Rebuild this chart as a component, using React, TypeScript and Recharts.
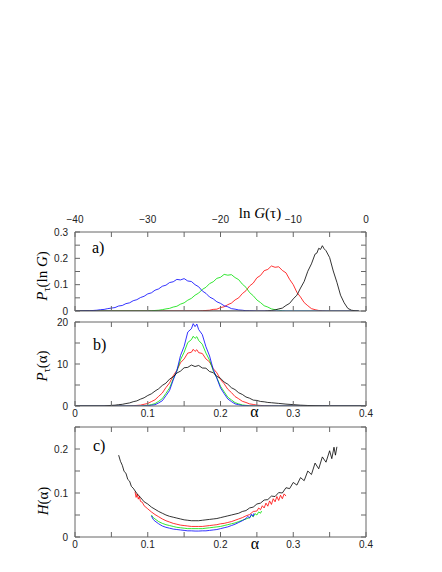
import React from 'react';
import { LineChart, Line, XAxis, YAxis } from 'recharts';

type Pt = [number, number];

// ---------- panel a: P_tau(ln G) vs ln G ----------
const aXTicks = [-40, -35, -30, -25, -20, -15, -10, -5, 0];
const aXMajor = [-40, -30, -20, -10, 0];
const aYTicks = [0, 0.05, 0.1, 0.15, 0.2, 0.25, 0.3];
const aYMajor = [0, 0.1, 0.2, 0.3];

const aBlue: Pt[] = [[-40,0],[-38.5,0.001],[-38,0.001],[-37.5,0.002],[-37,0.003],[-36.5,0.005],[-36,0.006],[-35.5,0.009],[-35,0.011],[-34.5,0.013],[-34,0.019],[-33.5,0.021],[-33,0.028],[-32.5,0.031],[-32,0.039],[-31.5,0.043],[-31,0.051],[-30.5,0.056],[-30,0.065],[-29.5,0.069],[-29,0.079],[-28.5,0.084],[-28,0.094],[-27.5,0.098],[-27,0.108],[-26.5,0.111],[-26,0.12],[-25.5,0.118],[-25,0.123],[-24.5,0.114],[-24,0.112],[-23.5,0.1],[-23,0.092],[-22.5,0.076],[-22,0.067],[-21.5,0.053],[-21,0.046],[-20.5,0.035],[-20,0.029],[-19.5,0.02],[-19,0.016],[-18.5,0.009],[-18,0.007],[-17.5,0.004],[-17,0.003],[-16.5,0.001],[-16,0.001],[-15,0],[-1,0]];
const aGreen: Pt[] = [[-40,0],[-30,0],[-29.5,0.001],[-29,0.002],[-28.5,0.003],[-28,0.005],[-27.5,0.008],[-27,0.01],[-26.5,0.015],[-26,0.018],[-25.5,0.026],[-25,0.031],[-24.5,0.041],[-24,0.048],[-23.5,0.06],[-23,0.068],[-22.5,0.082],[-22,0.09],[-21.5,0.104],[-21,0.111],[-20.5,0.124],[-20,0.128],[-19.5,0.139],[-19,0.136],[-18.5,0.138],[-18,0.127],[-17.5,0.119],[-17,0.102],[-16.5,0.09],[-16,0.07],[-15.5,0.058],[-15,0.042],[-14.5,0.032],[-14,0.02],[-13.5,0.015],[-13,0.008],[-12.5,0.005],[-12,0.003],[-11.5,0.001],[-11,0],[-1,0]];
const aRed: Pt[] = [[-40,0],[-23,0],[-22.5,0.001],[-22,0.002],[-21.5,0.003],[-21,0.006],[-20.5,0.007],[-20,0.013],[-19.5,0.016],[-19,0.024],[-18.5,0.03],[-18,0.042],[-17.5,0.05],[-17,0.066],[-16.5,0.077],[-16,0.095],[-15.5,0.106],[-15,0.126],[-14.5,0.135],[-14,0.153],[-13.5,0.158],[-13,0.171],[-12.5,0.166],[-12,0.168],[-11.5,0.154],[-11,0.145],[-10.5,0.12],[-10,0.1],[-9.5,0.071],[-9,0.053],[-8.5,0.032],[-8,0.02],[-7.5,0.009],[-7,0.005],[-6.5,0.002],[-6,0.001],[-5.5,0],[-1,0]];
const aBlack: Pt[] = [[-40,0],[-14,0],[-13.5,0.001],[-13,0.002],[-12.5,0.004],[-12,0.008],[-11.5,0.011],[-11,0.021],[-10.5,0.029],[-10,0.046],[-9.5,0.06],[-9,0.087],[-8.5,0.112],[-8,0.151],[-7.5,0.179],[-7,0.216],[-6.75,0.22],[-6.5,0.238],[-6.25,0.234],[-6,0.248],[-5.75,0.236],[-5.5,0.229],[-5,0.203],[-4.5,0.152],[-4,0.109],[-3.5,0.06],[-3,0.031],[-2.5,0.01],[-2,0.003],[-1.5,0.001],[-1,0]];

// ---------- panel b: P_tau(alpha) ----------
const alphaTicks = [0, 0.05, 0.1, 0.15, 0.2, 0.25, 0.3, 0.35, 0.4];
const alphaMajor = [0, 0.1, 0.2, 0.3, 0.4];
const bYTicks = [0, 5, 10, 15, 20];
const bYMajor = [0, 10, 20];

const bBlue: Pt[] = [[0,0],[0.09,0],[0.1,0.07],[0.105,0.18],[0.11,0.3],[0.115,0.74],[0.12,1.25],[0.125,2.45],[0.13,3.7],[0.135,6.2],[0.14,8.4],[0.145,12.0],[0.15,14.2],[0.155,17.6],[0.16,18.4],[0.1625,19.6],[0.165,18.9],[0.1675,19.5],[0.17,18.2],[0.175,17.0],[0.18,14.1],[0.185,11.9],[0.19,8.7],[0.195,6.6],[0.2,4.3],[0.205,2.95],[0.21,1.68],[0.215,1.05],[0.22,0.5],[0.225,0.3],[0.23,0.12],[0.235,0.06],[0.24,0.02],[0.25,0],[0.4,0]];
const bGreen: Pt[] = [[0,0],[0.09,0],[0.1,0.16],[0.105,0.33],[0.11,0.57],[0.115,1.12],[0.12,1.76],[0.125,3.0],[0.13,4.3],[0.135,6.45],[0.14,8.3],[0.145,11.0],[0.15,12.8],[0.155,15.1],[0.16,15.8],[0.1625,16.6],[0.165,16.1],[0.1675,16.5],[0.17,15.6],[0.175,14.7],[0.18,12.6],[0.185,10.9],[0.19,8.4],[0.195,6.7],[0.2,4.7],[0.205,3.4],[0.21,2.1],[0.215,1.45],[0.22,0.8],[0.225,0.5],[0.23,0.25],[0.235,0.15],[0.24,0.06],[0.25,0],[0.4,0]];
const bRed: Pt[] = [[0,0],[0.07,0],[0.08,0.07],[0.085,0.14],[0.09,0.21],[0.095,0.41],[0.1,0.6],[0.105,1.05],[0.11,1.48],[0.115,2.3],[0.12,3.1],[0.125,4.4],[0.13,5.5],[0.135,7.2],[0.14,8.5],[0.145,10.3],[0.15,11.2],[0.155,12.6],[0.16,12.8],[0.1625,13.5],[0.165,13.0],[0.1675,13.4],[0.17,12.7],[0.175,12.5],[0.18,11.2],[0.185,10.5],[0.19,8.9],[0.195,7.9],[0.2,6.3],[0.205,5.3],[0.21,4.0],[0.215,3.2],[0.22,2.25],[0.225,1.72],[0.23,1.12],[0.235,0.84],[0.24,0.5],[0.245,0.37],[0.25,0.2],[0.255,0.14],[0.26,0.07],[0.27,0.03],[0.28,0],[0.4,0]];
const bBlack: Pt[] = [[0,0],[0.04,0],[0.05,0.15],[0.055,0.2],[0.06,0.32],[0.065,0.4],[0.07,0.58],[0.075,0.73],[0.08,1.02],[0.085,1.22],[0.09,1.63],[0.095,1.96],[0.1,2.5],[0.105,2.9],[0.11,3.55],[0.115,4.1],[0.12,4.9],[0.125,5.45],[0.13,6.4],[0.135,6.95],[0.14,7.85],[0.145,8.3],[0.15,9.1],[0.155,9.2],[0.16,9.75],[0.165,9.4],[0.17,9.65],[0.175,9.05],[0.18,9.0],[0.185,8.2],[0.19,7.95],[0.195,7.05],[0.2,6.6],[0.205,5.7],[0.21,5.2],[0.215,4.35],[0.22,3.9],[0.225,3.15],[0.23,2.75],[0.235,2.15],[0.24,1.85],[0.245,1.4],[0.25,1.32],[0.255,1.08],[0.26,1.0],[0.265,0.85],[0.27,0.78],[0.28,0.62],[0.29,0.45],[0.3,0.33],[0.31,0.2],[0.32,0.12],[0.33,0.06],[0.34,0.03],[0.35,0],[0.4,0]];

// ---------- panel c: H(alpha) ----------
const cYTicks = [0, 0.05, 0.1, 0.15, 0.2, 0.25];
const cYMajor = [0, 0.1, 0.2];

const cBlack: Pt[] = [[0.06,0.186],[0.0625,0.172],[0.065,0.163],[0.0675,0.149],[0.07,0.145],[0.0725,0.131],[0.075,0.127],[0.0775,0.115],[0.08,0.111],[0.085,0.099],[0.09,0.09],[0.095,0.08],[0.1,0.075],[0.105,0.068],[0.11,0.063],[0.115,0.058],[0.12,0.054],[0.125,0.05],[0.13,0.047],[0.135,0.045],[0.14,0.043],[0.145,0.041],[0.15,0.039],[0.155,0.038],[0.16,0.037],[0.165,0.037],[0.17,0.037],[0.175,0.038],[0.18,0.039],[0.185,0.04],[0.19,0.041],[0.195,0.042],[0.2,0.044],[0.205,0.046],[0.21,0.048],[0.215,0.05],[0.22,0.052],[0.225,0.054],[0.23,0.058],[0.235,0.06],[0.24,0.066],[0.245,0.068],[0.25,0.075],[0.255,0.077],[0.26,0.084],[0.265,0.085],[0.27,0.093],[0.275,0.092],[0.28,0.101],[0.285,0.1],[0.29,0.112],[0.295,0.11],[0.3,0.124],[0.305,0.118],[0.31,0.135],[0.315,0.128],[0.32,0.15],[0.325,0.142],[0.33,0.168],[0.335,0.155],[0.34,0.182],[0.345,0.17],[0.35,0.196],[0.353,0.178],[0.356,0.204],[0.358,0.186],[0.36,0.205]];
const cRed: Pt[] = [[0.0825,0.103],[0.084,0.09],[0.0855,0.098],[0.087,0.086],[0.0885,0.092],[0.09,0.081],[0.0925,0.079],[0.095,0.071],[0.1,0.064],[0.105,0.057],[0.11,0.051],[0.115,0.046],[0.12,0.041],[0.125,0.037],[0.13,0.034],[0.135,0.031],[0.14,0.029],[0.145,0.027],[0.15,0.026],[0.155,0.025],[0.16,0.024],[0.165,0.024],[0.17,0.024],[0.175,0.024],[0.18,0.025],[0.185,0.026],[0.19,0.027],[0.195,0.028],[0.2,0.03],[0.205,0.031],[0.21,0.033],[0.215,0.035],[0.22,0.038],[0.225,0.041],[0.23,0.044],[0.235,0.048],[0.24,0.051],[0.245,0.058],[0.25,0.059],[0.2525,0.066],[0.255,0.062],[0.2575,0.071],[0.26,0.066],[0.2625,0.077],[0.265,0.07],[0.2675,0.082],[0.27,0.074],[0.2725,0.087],[0.275,0.08],[0.2775,0.092],[0.28,0.083],[0.2825,0.095],[0.285,0.087],[0.2875,0.098],[0.29,0.093]];
const cGreen: Pt[] = [[0.105,0.05],[0.1075,0.044],[0.11,0.041],[0.115,0.035],[0.12,0.031],[0.125,0.028],[0.13,0.026],[0.135,0.024],[0.14,0.022],[0.145,0.021],[0.15,0.02],[0.155,0.019],[0.16,0.019],[0.165,0.019],[0.17,0.019],[0.175,0.019],[0.18,0.02],[0.185,0.021],[0.19,0.022],[0.195,0.023],[0.2,0.024],[0.205,0.026],[0.21,0.028],[0.215,0.03],[0.22,0.032],[0.225,0.035],[0.23,0.038],[0.235,0.041],[0.24,0.044],[0.2425,0.049],[0.245,0.046],[0.2475,0.053],[0.25,0.05],[0.2525,0.057],[0.255,0.054],[0.2565,0.059]];
const cBlue: Pt[] = [[0.105,0.048],[0.1075,0.04],[0.11,0.036],[0.115,0.03],[0.12,0.025],[0.125,0.022],[0.13,0.02],[0.135,0.018],[0.14,0.017],[0.145,0.016],[0.15,0.015],[0.155,0.014],[0.16,0.014],[0.165,0.0135],[0.17,0.0135],[0.175,0.014],[0.18,0.014],[0.185,0.015],[0.19,0.016],[0.195,0.017],[0.2,0.019],[0.205,0.021],[0.21,0.023],[0.215,0.026],[0.22,0.029],[0.225,0.033],[0.23,0.037],[0.235,0.042],[0.2375,0.047],[0.24,0.043],[0.2425,0.052],[0.245,0.047],[0.246,0.054]];

// ---------- styling ----------
const SANS = '"Liberation Sans", Arial, Helvetica, sans-serif';
const SERIF = '"Liberation Serif", "Times New Roman", serif';
const FRAME = '#666666';
const TEXT = '#222';
const C_BLACK = '#000000';
const C_RED = '#ff0000';
const C_GREEN = '#00e000';
const C_BLUE = '#0000ff';
const LW = 0.8;
const TICK = 5;

const toRows = (pts: Pt[]) => pts.map(([x, y]) => ({ x, y }));
const fmtNum = (v: number) => {
  const r = Math.round(v * 1000) / 1000;
  const s = String(r);
  return s.startsWith('-') ? '\u2212' + s.slice(1) : s;
};
const isIn = (arr: number[], v: number) => arr.some((m) => Math.abs(m - v) < 1e-9);

// The tick anchor (x, y) sits on the axis line because tickMargin equals the inward tick size.
function makeTick(side: string, majors: number[], showLabels: boolean) {
  return (props: any) => {
    const { x, y, payload } = props;
    const v = payload.value as number;
    const major = isIn(majors, v);
    let label: React.ReactNode = null;
    if (showLabels && major) {
      if (side === 'bottom') label = <text x={x} y={y + 11} textAnchor="middle" fontFamily={SANS} fontSize={10} fill={TEXT}>{fmtNum(v)}</text>;
      if (side === 'top') label = <text x={x} y={y - 9} textAnchor="middle" fontFamily={SANS} fontSize={10} fill={TEXT}>{fmtNum(v)}</text>;
      if (side === 'left') label = <text x={x - 7} y={y + 3.6} textAnchor="end" fontFamily={SANS} fontSize={10} fill={TEXT}>{fmtNum(v)}</text>;
    }
    return <g>{label}</g>;
  };
}

type Series = { pts: Pt[]; color: string };

// Two identical chart geometries are stacked: the lower one holds the coloured
// series (axes present but invisible, to keep the same plot area), the upper one
// holds the frame, the inward ticks, the tick labels and the black series.
function Panel(p: any) {
  const tl = { stroke: FRAME, strokeWidth: 1 };
  const al = { stroke: FRAME };
  const style: React.CSSProperties = { position: 'absolute', left: 0, top: p.top, width: 442, height: p.height };
  return (
    <>
      <div style={style}>
        <LineChart width={442} height={p.height} margin={p.margin}>
          <XAxis xAxisId="b" orientation="bottom" dataKey="x" type="number" domain={p.xDomain} ticks={p.xTicks} interval={0}
            allowDataOverflow height={p.bottomH} tick={false} tickLine={false} axisLine={false} />
          <XAxis xAxisId="t" orientation="top" dataKey="x" type="number" domain={p.xDomain} ticks={p.xTicks} interval={0}
            allowDataOverflow height={p.topH} tick={false} tickLine={false} axisLine={false} />
          <YAxis yAxisId="l" orientation="left" type="number" domain={p.yDomain} ticks={p.yTicks} interval={0}
            allowDataOverflow width={40} tick={false} tickLine={false} axisLine={false} />
          <YAxis yAxisId="r" orientation="right" type="number" domain={p.yDomain} ticks={p.yTicks} interval={0}
            allowDataOverflow width={6} tick={false} tickLine={false} axisLine={false} />
          {(p.series as Series[]).map((s, i) => (
            <Line key={i} xAxisId="b" yAxisId="l" data={toRows(s.pts)} dataKey="y" type="linear"
              stroke={s.color} strokeWidth={LW} dot={false} isAnimationActive={false} />
          ))}
        </LineChart>
      </div>
      <div style={style}>
        <LineChart width={442} height={p.height} margin={p.margin}>
          <XAxis xAxisId="b" orientation="bottom" dataKey="x" type="number" domain={p.xDomain} ticks={p.xTicks} interval={0}
            allowDataOverflow height={p.bottomH} tickSize={-TICK} tickMargin={TICK} tickLine={tl}
            axisLine={al} tick={makeTick('bottom', p.xMajor, p.bottomLabels)} />
          <XAxis xAxisId="t" orientation="top" dataKey="x" type="number" domain={p.xDomain} ticks={p.xTicks} interval={0}
            allowDataOverflow height={p.topH} tickSize={-TICK} tickMargin={TICK} tickLine={tl}
            axisLine={al} tick={makeTick('top', p.xMajor, p.topLabels)} />
          <YAxis yAxisId="l" orientation="left" type="number" domain={p.yDomain} ticks={p.yTicks} interval={0}
            allowDataOverflow width={40} tickSize={-TICK} tickMargin={TICK} tickLine={tl}
            axisLine={al} tick={makeTick('left', p.yMajor, true)} />
          <YAxis yAxisId="r" orientation="right" type="number" domain={p.yDomain} ticks={p.yTicks} interval={0}
            allowDataOverflow width={6} tickSize={-TICK} tickMargin={TICK} tickLine={tl}
            axisLine={al} tick={makeTick('right', p.yMajor, false)} />
          <Line xAxisId="b" yAxisId="l" data={toRows(p.black)} dataKey="y" type="linear"
            stroke={C_BLACK} strokeWidth={LW} dot={false} isAnimationActive={false} />
        </LineChart>
      </div>
    </>
  );
}

const serifText = { fontFamily: SERIF, fill: '#000' };

export default function App() {
  return (
    <div style={{ position: 'absolute', left: 0, top: 0, width: 442, height: 572, background: '#fff' }}>
      <svg width={442} height={572} style={{ position: 'absolute', left: 0, top: 0 }}>
        <text x={260} y={218} textAnchor="middle" fontSize={15} {...serifText}>
          ln <tspan fontStyle="italic">G</tspan>(τ)
        </text>
        <text x={92} y={253} fontSize={16} {...serifText}>a)</text>
        <text x={93} y={350} fontSize={16} {...serifText}>b)</text>
        <text x={93} y={451} fontSize={16} {...serifText}>c)</text>
        <text x={47} y={276} textAnchor="middle" fontSize={15} transform="rotate(-90 47 276)" {...serifText}>
          <tspan fontStyle="italic">P</tspan><tspan fontSize={10} dy={3}>τ</tspan><tspan dy={-3}>(ln </tspan><tspan fontStyle="italic">G</tspan><tspan>)</tspan>
        </text>
        <text x={47} y={366} textAnchor="middle" fontSize={15} transform="rotate(-90 47 366)" {...serifText}>
          <tspan fontStyle="italic">P</tspan><tspan fontSize={10} dy={3}>τ</tspan><tspan dy={-3}>(α)</tspan>
        </text>
        <text x={48} y={501} textAnchor="middle" fontSize={15} transform="rotate(-90 48 501)" {...serifText}>
          <tspan fontStyle="italic">H</tspan><tspan>(α)</tspan>
        </text>
        <text x={254.5} y={417} textAnchor="middle" fontSize={16} {...serifText}>α</text>
        <text x={255} y={549} textAnchor="middle" fontSize={16} {...serifText}>α</text>
      </svg>
      <Panel top={200} height={120} margin={{ top: 12, right: 70, bottom: 5, left: 35 }} topH={20} bottomH={4}
        xDomain={[-40, 0]} xTicks={aXTicks} xMajor={aXMajor} yDomain={[0, 0.3]} yTicks={aYTicks} yMajor={aYMajor}
        topLabels={true} bottomLabels={false} black={aBlack}
        series={[{ pts: aRed, color: C_RED }, { pts: aGreen, color: C_GREEN }, { pts: aBlue, color: C_BLUE }]} />
      <Panel top={310} height={110} margin={{ top: 10, right: 70, bottom: 4, left: 35 }} topH={2} bottomH={10}
        xDomain={[0, 0.4]} xTicks={alphaTicks} xMajor={alphaMajor} yDomain={[0, 20]} yTicks={bYTicks} yMajor={bYMajor}
        topLabels={false} bottomLabels={true} black={bBlack}
        series={[{ pts: bRed, color: C_RED }, { pts: bGreen, color: C_GREEN }, { pts: bBlue, color: C_BLUE }]} />
      <Panel top={420} height={152} margin={{ top: 5, right: 70, bottom: 25, left: 35 }} topH={2} bottomH={10}
        xDomain={[0, 0.4]} xTicks={alphaTicks} xMajor={alphaMajor} yDomain={[0, 0.25]} yTicks={cYTicks} yMajor={cYMajor}
        topLabels={false} bottomLabels={true} black={cBlack}
        series={[{ pts: cRed, color: C_RED }, { pts: cGreen, color: C_GREEN }, { pts: cBlue, color: C_BLUE }]} />
    </div>
  );
}
